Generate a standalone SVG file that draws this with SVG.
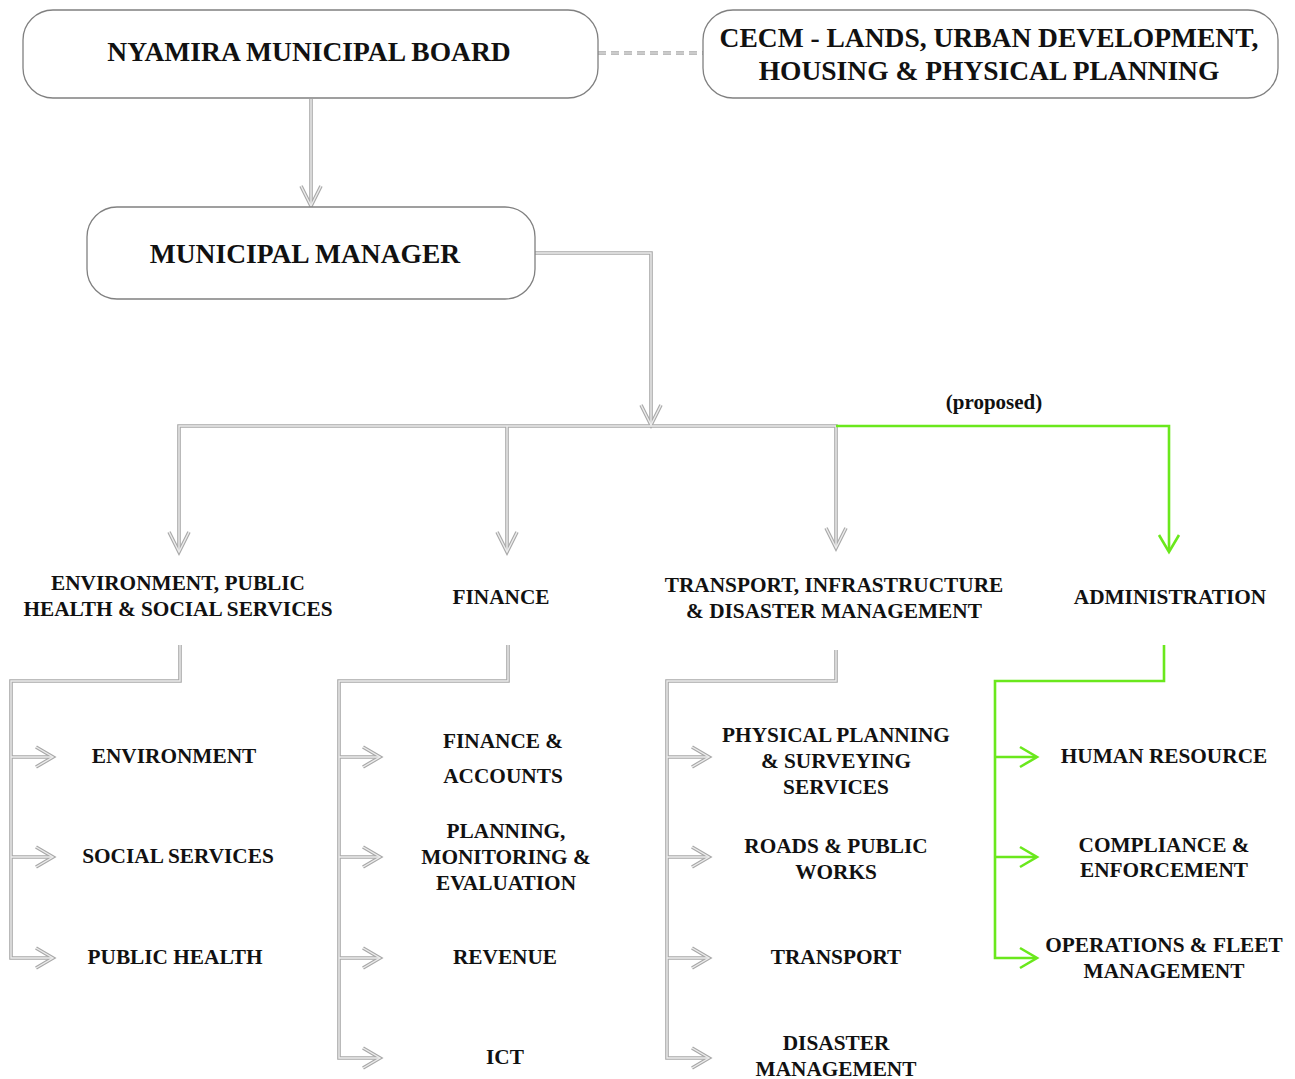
<svg xmlns="http://www.w3.org/2000/svg" width="1295" height="1079" viewBox="0 0 1295 1079">
<style>
text{font-family:"Liberation Serif","Times New Roman",serif;font-weight:bold;fill:#111;text-anchor:middle;dominant-baseline:central}
.t1{font-size:27.5px}
.t2{font-size:21.3px}
.t3{font-size:21px}
.box{fill:#fff;stroke:#808080;stroke-width:1.3}
.go{fill:none;stroke:#a8a8a8;stroke-width:3.6;stroke-linejoin:miter}
.gi{fill:none;stroke:#ececec;stroke-width:1.4;stroke-linejoin:miter}
.gr{fill:none;stroke:#6ae81c;stroke-width:2.6;stroke-linejoin:miter}
.dash{fill:none;stroke:#a8a8a8;stroke-width:3.4;stroke-dasharray:8 5}
.dashi{fill:none;stroke:#eeeeee;stroke-width:1.2;stroke-dasharray:8 5}
</style>
<defs>
<g id="dn"><polyline points="-10,-20 0,0 10,-20"/></g>
<g id="rt"><polyline points="-17,-10 0,0 -17,10"/></g>
</defs>
<rect width="1295" height="1079" fill="#fff"/>
<g id="connectors">
<g id="grey-outer" class="go">
<path d="M598 53 H703" class="dash"/>
<path d="M311 99 V205"/>
<path d="M535 253 H651 V424"/>
<path d="M179 551 V426 H836 V547"/>
<path d="M507 426 V551"/>
<path d="M180 645 V681 H11 V958 H52 M11 757 H52 M11 857 H52"/>
<path d="M508 645 V681 H339 V1058 H379 M339 757 H379 M339 857 H379 M339 958 H379"/>
<path d="M836 650 V681 H667 V1058 H708 M667 757 H708 M667 857 H708 M667 958 H708"/>
<use href="#dn" x="311" y="206"/><use href="#dn" x="651" y="425"/><use href="#dn" x="179" y="552"/><use href="#dn" x="507" y="552"/><use href="#dn" x="836" y="548"/>
<use href="#rt" x="53" y="757"/><use href="#rt" x="53" y="857"/><use href="#rt" x="53" y="958"/>
<use href="#rt" x="380" y="757"/><use href="#rt" x="380" y="857"/><use href="#rt" x="380" y="958"/><use href="#rt" x="380" y="1058"/>
<use href="#rt" x="709" y="757"/><use href="#rt" x="709" y="857"/><use href="#rt" x="709" y="958"/><use href="#rt" x="709" y="1058"/>
</g>
<g id="grey-inner" class="gi">
<path d="M598 53 H703" class="dashi"/>
<path d="M311 99 V205"/>
<path d="M535 253 H651 V424"/>
<path d="M179 551 V426 H836 V547"/>
<path d="M507 426 V551"/>
<path d="M180 645 V681 H11 V958 H52 M11 757 H52 M11 857 H52"/>
<path d="M508 645 V681 H339 V1058 H379 M339 757 H379 M339 857 H379 M339 958 H379"/>
<path d="M836 650 V681 H667 V1058 H708 M667 757 H708 M667 857 H708 M667 958 H708"/>
<use href="#dn" x="311" y="206"/><use href="#dn" x="651" y="425"/><use href="#dn" x="179" y="552"/><use href="#dn" x="507" y="552"/><use href="#dn" x="836" y="548"/>
<use href="#rt" x="53" y="757"/><use href="#rt" x="53" y="857"/><use href="#rt" x="53" y="958"/>
<use href="#rt" x="380" y="757"/><use href="#rt" x="380" y="857"/><use href="#rt" x="380" y="958"/><use href="#rt" x="380" y="1058"/>
<use href="#rt" x="709" y="757"/><use href="#rt" x="709" y="857"/><use href="#rt" x="709" y="958"/><use href="#rt" x="709" y="1058"/>
</g>
<g id="green" class="gr">
<path d="M836 426 H1169 V551"/>
<polyline points="1159,535 1169,552 1179,535"/>
<path d="M1164 645 V681 H995 V958 H1036 M995 757 H1036 M995 857 H1036"/>
<use href="#rt" x="1037" y="757"/><use href="#rt" x="1037" y="857"/><use href="#rt" x="1037" y="958"/>
</g>
<text class="t3" x="994" y="402">(proposed)</text>
</g>
<g id="board"><rect class="box" x="23" y="10" width="575" height="88" rx="30"/><text class="t1" x="309" y="51">NYAMIRA MUNICIPAL BOARD</text></g>
<g id="cecm"><rect class="box" x="703" y="10" width="575" height="88" rx="30"/><text class="t1" x="989" y="37">CECM - LANDS, URBAN DEVELOPMENT,</text><text class="t1" x="989" y="70">HOUSING &amp; PHYSICAL PLANNING</text></g>
<g id="manager"><rect class="box" x="87" y="207" width="448" height="92" rx="30"/><text class="t1" x="305" y="253">MUNICIPAL MANAGER</text></g>
<g id="dept-env"><text class="t2" x="178" y="583">ENVIRONMENT, PUBLIC</text><text class="t2" x="178" y="609">HEALTH &amp; SOCIAL SERVICES</text></g>
<g id="dept-fin"><text class="t2" x="501" y="597">FINANCE</text></g>
<g id="dept-trans"><text class="t2" x="834" y="585">TRANSPORT, INFRASTRUCTURE</text><text class="t2" x="834" y="611">&amp; DISASTER MANAGEMENT</text></g>
<g id="dept-admin"><text class="t2" x="1170" y="597">ADMINISTRATION</text></g>
<g id="environment"><text class="t2" x="174" y="756">ENVIRONMENT</text></g>
<g id="social"><text class="t2" x="178" y="856">SOCIAL SERVICES</text></g>
<g id="public-health"><text class="t2" x="175" y="957">PUBLIC HEALTH</text></g>
<g id="fin-acc"><text class="t2" x="503" y="741">FINANCE &amp;</text><text class="t2" x="503" y="776">ACCOUNTS</text></g>
<g id="pme"><text class="t2" x="506" y="831">PLANNING,</text><text class="t2" x="506" y="857">MONITORING &amp;</text><text class="t2" x="506" y="883">EVALUATION</text></g>
<g id="revenue"><text class="t2" x="505" y="957">REVENUE</text></g>
<g id="ict"><text class="t2" x="505" y="1057">ICT</text></g>
<g id="ppss"><text class="t2" x="836" y="735">PHYSICAL PLANNING</text><text class="t2" x="836" y="761">&amp; SURVEYING</text><text class="t2" x="836" y="787">SERVICES</text></g>
<g id="roads"><text class="t2" x="836" y="846">ROADS &amp; PUBLIC</text><text class="t2" x="836" y="872">WORKS</text></g>
<g id="transport"><text class="t2" x="836" y="957">TRANSPORT</text></g>
<g id="disaster"><text class="t2" x="836" y="1043">DISASTER</text><text class="t2" x="836" y="1069">MANAGEMENT</text></g>
<g id="hr"><text class="t2" x="1164" y="756">HUMAN RESOURCE</text></g>
<g id="compliance"><text class="t2" x="1164" y="845">COMPLIANCE &amp;</text><text class="t2" x="1164" y="870">ENFORCEMENT</text></g>
<g id="ops"><text class="t2" x="1164" y="945">OPERATIONS &amp; FLEET</text><text class="t2" x="1164" y="971">MANAGEMENT</text></g>
</svg>
